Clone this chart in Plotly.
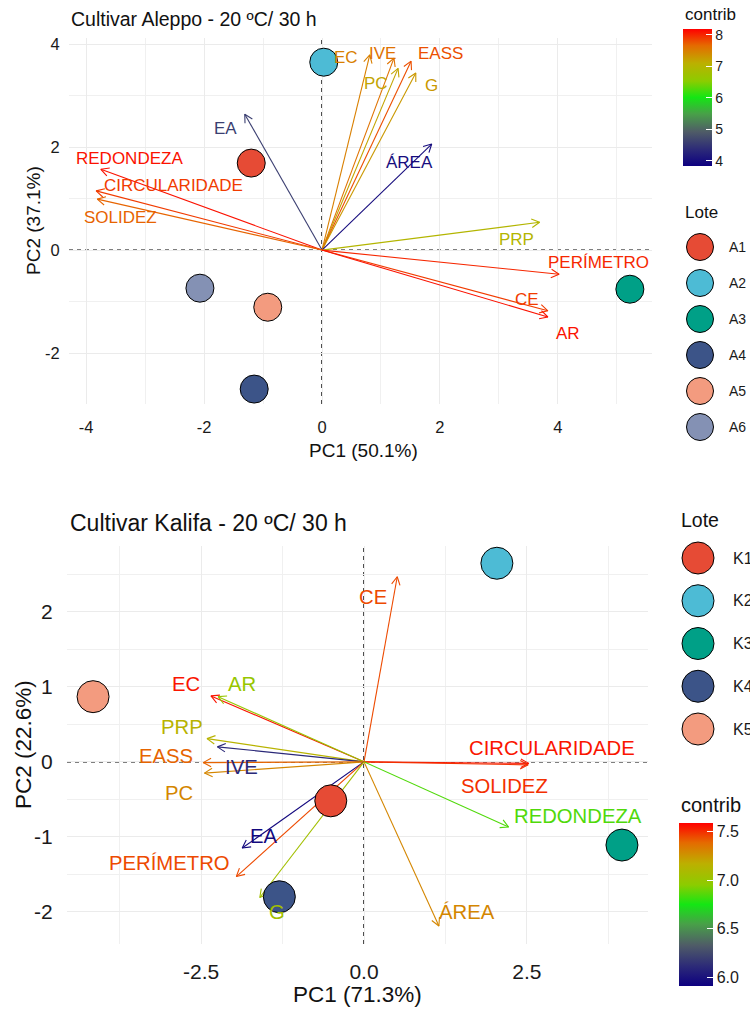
import numpy as np
import plotly.graph_objects as go

W, H = 750, 1012
FONT = "Liberation Sans, Arial, sans-serif"

# ---------------- Data: Cultivar Aleppo ----------------
a_title = "Cultivar Aleppo - 20 ºC/ 30 h"
a_xlab = "PC1 (50.1%)"
a_ylab = "PC2 (37.1%)"
a_lote = ["A1", "A2", "A3", "A4", "A5", "A6"]
a_pc1 = [-1.20, 0.03, 5.22, -1.15, -0.92, -2.07]
a_pc2 = [1.69, 3.65, -0.76, -2.70, -1.11, -0.74]
a_vars = ["EC", "IVE", "PC", "EASS", "G", "ÁREA", "PRP", "PERÍMETRO", "CE", "AR",
          "EA", "REDONDEZA", "CIRCULARIDADE", "SOLIDEZ"]
a_v1 = [0.81, 1.22, 1.29, 1.51, 1.59, 1.86, 3.69, 4.02, 3.83, 3.83, -1.31, -3.75, -3.83, -3.81]
a_v2 = [3.79, 3.73, 3.53, 3.67, 3.44, 2.06, 0.54, -0.47, -1.18, -1.30, 2.64, 1.57, 1.15, 0.99]
a_contrib = [7.5, 7.6, 7.2, 7.8, 7.3, 4.0, 7.0, 8.0, 7.9, 8.1, 4.6, 8.1, 7.9, 7.7]
a_xticks = [-4, -2, 0, 2, 4]
a_yticks = [-2, 0, 2, 4]
a_cticks = [4, 5, 6, 7, 8]

# ---------------- Data: Cultivar Kalifa ----------------
k_title = "Cultivar Kalifa - 20 ºC/ 30 h"
k_xlab = "PC1 (71.3%)"
k_ylab = "PC2 (22.6%)"
k_lote = ["K1", "K2", "K3", "K4", "K5"]
k_pc1 = [-0.51, 2.04, 3.96, -1.30, -4.16]
k_pc2 = [-0.52, 2.65, -1.11, -1.80, 0.87]
k_vars = ["CE", "EC", "AR", "PRP", "IVE", "EASS", "PC", "EA", "PERÍMETRO", "G",
          "CIRCULARIDADE", "SOLIDEZ", "REDONDEZA", "ÁREA"]
k_v1 = [0.51, -2.35, -2.24, -2.41, -2.25, -2.47, -2.45, -1.87, -1.96, -1.60, 2.53, 2.52, 2.22, 1.15]
k_v2 = [2.47, 0.88, 0.87, 0.31, 0.20, -0.01, -0.15, -1.15, -1.53, -1.81, -0.02, -0.04, -0.87, -2.19]
k_contrib = [7.45, 7.55, 7.0, 7.15, 6.1, 7.4, 7.3, 5.95, 7.45, 7.05, 7.55, 7.5, 6.85, 7.3]
k_xticks = [-2.5, 0.0, 2.5]
k_yticks = [-2, -1, 0, 1, 2]
k_cticks = [6.0, 6.5, 7.0, 7.5]

# ---------------- Styles ----------------
lote_palette = ["#E64B35", "#4DBBD5", "#00A087", "#3C5488", "#F39B7F", "#8491B4"]
CSCALE = [[0.0, "#0d0080"], [0.12, "#2c2a78"], [0.25, "#4f5c67"], [0.38, "#48a048"],
          [0.5, "#14e614"], [0.62, "#8ccc00"], [0.75, "#bcb000"], [0.88, "#e56a00"],
          [1.0, "#ff0000"]]

# label offsets (px) relative to arrow tip (ggrepel-like placement)
a_lab_off = {"EC": (-24, 3), "IVE": (-11, -5), "PC": (-22, 15), "EASS": (29, -8), "G": (16, 12),
             "ÁREA": (-22, 18), "PRP": (-23, 17), "PERÍMETRO": (39, -12), "CE": (-21, -11),
             "AR": (20, 16), "EA": (-19, 14), "REDONDEZA": (29, -11),
             "CIRCULARIDADE": (77, -5), "SOLIDEZ": (23, 18)}
k_lab_off = {"CE": (-24, 20), "EC": (-25, -12), "AR": (24, -13), "PRP": (-25, -12),
             "IVE": (24, 20), "EASS": (-37, -7), "PC": (-25, 20), "EA": (22, -12),
             "PERÍMETRO": (-67, -14), "G": (17, 14), "CIRCULARIDADE": (23, -15),
             "SOLIDEZ": (-24, 21), "REDONDEZA": (69, -11), "ÁREA": (28, -14)}

panels = {
    "top": dict(xd=(69, 657), yd=(38, 404), xr=(-4.29, 5.68), yr=(-2.99, 4.12),
                xa="xaxis", ya="yaxis", xref="x", yref="y",
                tick=16.5, lab=17, axt=19, ttl=19.5, msize=28,
                xticklen=8, yticklen=5, cmin=3.84, cmax=8.19,
                cbar=dict(x=683, y=29, len=137, th=29, font=14),
                leg=dict(title_y=212, title_x=683, key_x=700, text_x=727, y0=247, dy=36, ms=27, font=14, tfont=17),
                ctitle=dict(x=683, y=14, font=17),
                titlepos=(69, 19), xlabpos=(363, 450), ylabpos=(34, 221)),
    "bot": dict(xd=(67, 648), yd=(546, 944), xr=(-4.56, 4.36), yr=(-2.43, 2.88),
                xa="xaxis2", ya="yaxis2", xref="x2", yref="y2",
                tick=21, lab=20.3, axt=22.5, ttl=23, msize=32,
                xticklen=9, yticklen=9, cmin=5.91, cmax=7.59,
                cbar=dict(x=679, y=823, len=163, th=34, font=16),
                leg=dict(title_y=520, title_x=679, key_x=698, text_x=731, y0=558, dy=42.75, ms=32, font=16, tfont=19.5),
                ctitle=dict(x=679, y=805, font=20),
                titlepos=(68, 523), xlabpos=(357, 994), ylabpos=(23, 745)),
}


def hex2rgb(h):
    h = h.lstrip("#")
    return tuple(int(h[i:i + 2], 16) for i in (0, 2, 4))


def cmap(v, vmin, vmax):
    f = min(max((v - vmin) / (vmax - vmin), 0.0), 1.0)
    for (p0, c0), (p1, c1) in zip(CSCALE[:-1], CSCALE[1:]):
        if p0 <= f <= p1:
            t = (f - p0) / (p1 - p0) if p1 > p0 else 0
            a, b = hex2rgb(c0), hex2rgb(c1)
            r = [round(a[i] + (b[i] - a[i]) * t) for i in range(3)]
            return "rgb(%d,%d,%d)" % tuple(r)
    return CSCALE[-1][1]


def fx(px):
    return px / W


def fy(py):
    return 1 - py / H


fig = go.Figure()
annotations = []
shapes = []
layout_axes = {}


def build(key, lote, pc1, pc2, vars_, v1, v2, contrib, xticks, yticks, cticks, title, xlab, ylab, laboff, colors):
    P = panels[key]
    sx = (P["xd"][1] - P["xd"][0]) / (P["xr"][1] - P["xr"][0])
    sy = (P["yd"][1] - P["yd"][0]) / (P["yr"][1] - P["yr"][0])
    xref, yref = P["xref"], P["yref"]
    L, ang = 9.0, np.radians(28)
    # dashed zero lines
    shapes.append(dict(type="line", xref=xref, yref=yref + " domain", x0=0, x1=0, y0=0, y1=1,
                       line=dict(color="black", width=1.4, dash="4px,4px"), layer="below"))
    shapes.append(dict(type="line", xref=xref + " domain", yref=yref, x0=0, x1=1, y0=0, y1=0,
                       line=dict(color="black", width=1.4, dash="4px,4px"), layer="below"))
    # arrows
    for name, x, y, c in zip(vars_, v1, v2, contrib):
        col = cmap(c, P["cmin"], P["cmax"])
        px, py = x * sx, y * sy
        n = np.hypot(px, py)
        ux, uy = px / n, py / n
        hx, hy = [], []
        for s in (1, -1):
            cs, sn = np.cos(s * ang), np.sin(s * ang)
            rx, ry = ux * cs - uy * sn, ux * sn + uy * cs
            hx.append(x - L * rx / sx)
            hy.append(y - L * ry / sy)
        fig.add_trace(go.Scatter(x=[0, x, None, hx[0], x, hx[1]], y=[0, y, None, hy[0], y, hy[1]],
                                 mode="lines", line=dict(color=col, width=1.1), hoverinfo="skip",
                                 xaxis=xref, yaxis=yref, showlegend=False))
        dx, dy = laboff[name]
        annotations.append(dict(x=x, y=y, xref=xref, yref=yref, text=name, showarrow=False,
                                xshift=dx, yshift=-dy, font=dict(family=FONT, size=P["lab"], color=col)))
    # colorbar carrier (invisible markers at arrow tips)
    cb = P["cbar"]
    fig.add_trace(go.Scatter(x=v1, y=v2, mode="markers", xaxis=xref, yaxis=yref, hoverinfo="skip",
                             showlegend=False,
                             marker=dict(size=0.1, opacity=0, color=contrib, colorscale=CSCALE,
                                         cmin=P["cmin"], cmax=P["cmax"], showscale=True,
                                         colorbar=dict(x=fx(cb["x"]), xanchor="left", xpad=0,
                                                       y=fy(cb["y"]), yanchor="top", ypad=0,
                                                       len=cb["len"], lenmode="pixels",
                                                       thickness=cb["th"], thicknessmode="pixels",
                                                       outlinewidth=0, tickvals=cticks,
                                                       ticktext=[("%.1f" % t) if key == "bot" else str(int(t)) for t in cticks],
                                                       ticks="inside", ticklen=6, tickcolor="white",
                                                       tickfont=dict(family=FONT, size=cb["font"], color="#1a1a1a")))))
    # individuals
    fig.add_trace(go.Scatter(x=pc1, y=pc2, mode="markers", xaxis=xref, yaxis=yref, showlegend=False,
                             text=lote, hoverinfo="text",
                             marker=dict(size=P["msize"], color=colors[:len(lote)],
                                         line=dict(color="black", width=1))))
    # legend keys (in pixel-based legend axis)
    lg = P["leg"]
    ys = [lg["y0"] + i * lg["dy"] for i in range(len(lote))]
    fig.add_trace(go.Scatter(x=[lg["key_x"]] * len(lote), y=ys, mode="markers", xaxis="x3", yaxis="y3",
                             showlegend=False, hoverinfo="skip",
                             marker=dict(size=lg["ms"], color=colors[:len(lote)],
                                         line=dict(color="black", width=1))))
    for name, yy in zip(lote, ys):
        annotations.append(dict(x=fx(lg["text_x"]), y=fy(yy), xref="paper", yref="paper", text=name,
                                showarrow=False, xanchor="left", yanchor="middle",
                                font=dict(family=FONT, size=lg["font"], color="#1a1a1a")))
    annotations.append(dict(x=fx(lg["title_x"]), y=fy(lg["title_y"]), xref="paper", yref="paper", text="Lote",
                            showarrow=False, xanchor="left", yanchor="middle",
                            font=dict(family=FONT, size=lg["tfont"], color="#111")))
    ct = P["ctitle"]
    annotations.append(dict(x=fx(ct["x"]), y=fy(ct["y"]), xref="paper", yref="paper", text="contrib",
                            showarrow=False, xanchor="left", yanchor="middle",
                            font=dict(family=FONT, size=ct["font"], color="#111")))
    # titles
    tx, ty = P["titlepos"]
    annotations.append(dict(x=fx(tx), y=fy(ty), xref="paper", yref="paper", text=title, showarrow=False,
                            xanchor="left", yanchor="middle", font=dict(family=FONT, size=P["ttl"], color="#111")))
    lx, ly = P["xlabpos"]
    annotations.append(dict(x=fx(lx), y=fy(ly), xref="paper", yref="paper", text=xlab, showarrow=False,
                            xanchor="center", yanchor="middle", font=dict(family=FONT, size=P["axt"], color="#111")))
    lx, ly = P["ylabpos"]
    annotations.append(dict(x=fx(lx), y=fy(ly), xref="paper", yref="paper", text=ylab, showarrow=False,
                            textangle=-90, xanchor="center", yanchor="middle",
                            font=dict(family=FONT, size=P["axt"], color="#111")))
    # axes
    xstep = xticks[1] - xticks[0]
    ystep = yticks[1] - yticks[0]
    xminor = [t + xstep / 2 for t in [xticks[0] - xstep] + list(xticks)]
    yminor = [t + ystep / 2 for t in [yticks[0] - ystep] + list(yticks)]
    xt_text = [("%.1f" % t) if key == "bot" else str(int(t)) for t in xticks]
    yt_text = [str(int(t)) for t in yticks]
    layout_axes[P["xa"]] = dict(domain=[fx(P["xd"][0]), fx(P["xd"][1])], range=list(P["xr"]),
                                anchor=yref, tickvals=xticks, ticktext=xt_text, showgrid=True,
                                gridcolor="#EBEBEB", gridwidth=1, zeroline=False, showline=False,
                                ticks="outside", ticklen=P["xticklen"], tickcolor="rgba(0,0,0,0)",
                                tickfont=dict(family=FONT, size=P["tick"], color="#1a1a1a"),
                                minor=dict(tickvals=xminor, showgrid=True, gridcolor="#F0F0F0", gridwidth=1),
                                automargin=False, fixedrange=True)
    layout_axes[P["ya"]] = dict(domain=[fy(P["yd"][1]), fy(P["yd"][0])], range=list(P["yr"]),
                                anchor=xref, tickvals=yticks, ticktext=yt_text, showgrid=True,
                                gridcolor="#EBEBEB", gridwidth=1, zeroline=False, showline=False,
                                ticks="outside", ticklen=P["yticklen"], tickcolor="rgba(0,0,0,0)",
                                tickfont=dict(family=FONT, size=P["tick"], color="#1a1a1a"),
                                minor=dict(tickvals=yminor, showgrid=True, gridcolor="#F0F0F0", gridwidth=1),
                                automargin=False, fixedrange=True)


build("top", a_lote, a_pc1, a_pc2, a_vars, a_v1, a_v2, a_contrib, a_xticks, a_yticks, a_cticks,
      a_title, a_xlab, a_ylab, a_lab_off, lote_palette)
build("bot", k_lote, k_pc1, k_pc2, k_vars, k_v1, k_v2, k_contrib, k_xticks, k_yticks, k_cticks,
      k_title, k_xlab, k_ylab, k_lab_off, lote_palette)

# pixel-based axis for the legend keys
layout_axes["xaxis3"] = dict(domain=[652 / W, 1], range=[652, 750], visible=False, fixedrange=True, anchor="y3")
layout_axes["yaxis3"] = dict(domain=[0, 1], range=[H, 0], visible=False, fixedrange=True, anchor="x3")

fig.update_layout(width=W, height=H, autosize=False, margin=dict(l=0, r=0, t=0, b=0, pad=0),
                  paper_bgcolor="white", plot_bgcolor="white", showlegend=False,
                  font=dict(family=FONT), annotations=annotations, shapes=shapes, **layout_axes)

fig.write_html("out.html", config={"displayModeBar": False},
               post_script="document.body.style.margin='0';document.body.style.padding='0';")
